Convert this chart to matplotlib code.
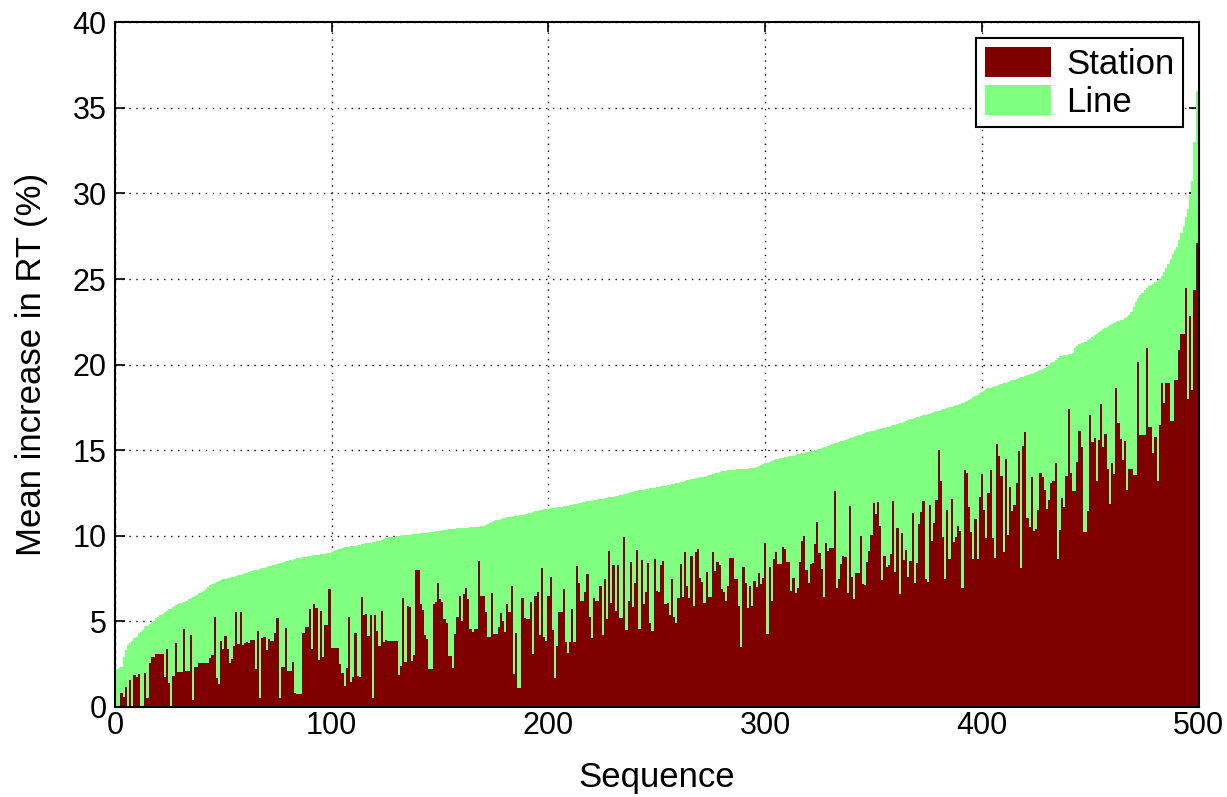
import numpy as np
import matplotlib
matplotlib.use("Agg")
import matplotlib.pyplot as plt

# mean increase in RT (%) for each sequence, sorted by the "Line" value
line_vals = [
    0.4, 2.2, 2.25, 2.35, 2.9, 3.3, 3.6, 3.75, 3.85, 4.0,
    4.1, 4.3, 4.4, 4.5, 4.7, 4.75, 4.85, 4.95, 5.05, 5.2,
    5.25, 5.35, 5.45, 5.55, 5.6, 5.7, 5.75, 5.85, 5.95, 6.0,
    6.05, 6.1, 6.15, 6.2, 6.3, 6.35, 6.4, 6.5, 6.55, 6.65,
    6.7, 6.8, 6.9, 7.0, 7.15, 7.2, 7.25, 7.3, 7.35, 7.4,
    7.45, 7.5, 7.52, 7.55, 7.6, 7.62, 7.65, 7.7, 7.72, 7.75,
    7.8, 7.85, 7.9, 7.95, 7.98, 8.0, 8.03, 8.06, 8.1, 8.14,
    8.18, 8.22, 8.25, 8.28, 8.32, 8.36, 8.4, 8.43, 8.46, 8.5,
    8.53, 8.56, 8.6, 8.64, 8.68, 8.7, 8.72, 8.74, 8.77, 8.8,
    8.82, 8.84, 8.86, 8.88, 8.9, 8.92, 8.94, 8.96, 8.98, 9.0,
    9.05, 9.1, 9.15, 9.2, 9.25, 9.3, 9.32, 9.34, 9.36, 9.38,
    9.4, 9.42, 9.45, 9.47, 9.5, 9.52, 9.55, 9.58, 9.6, 9.62,
    9.65, 9.68, 9.7, 9.75, 9.8, 9.85, 9.9, 9.92, 9.93, 9.95,
    9.97, 9.98, 10.0, 10.02, 10.03, 10.05, 10.07, 10.08, 10.1, 10.11,
    10.13, 10.14, 10.16, 10.17, 10.19, 10.2, 10.22, 10.24, 10.26, 10.28,
    10.3, 10.32, 10.34, 10.36, 10.38, 10.39, 10.4, 10.41, 10.43, 10.44,
    10.45, 10.46, 10.47, 10.48, 10.49, 10.5, 10.51, 10.52, 10.53, 10.55,
    10.6, 10.65, 10.7, 10.75, 10.8, 10.85, 10.9, 10.95, 11.0, 11.02,
    11.04, 11.07, 11.09, 11.11, 11.13, 11.15, 11.18, 11.2, 11.23, 11.26,
    11.3, 11.33, 11.36, 11.4, 11.43, 11.46, 11.5, 11.52, 11.54, 11.56,
    11.58, 11.6, 11.62, 11.64, 11.66, 11.68, 11.7, 11.72, 11.74, 11.76,
    11.78, 11.8, 11.83, 11.86, 11.9, 11.93, 11.96, 12.0, 12.02, 12.04,
    12.05, 12.07, 12.1, 12.12, 12.14, 12.17, 12.2, 12.22, 12.24, 12.26,
    12.28, 12.31, 12.34, 12.37, 12.4, 12.43, 12.46, 12.5, 12.53, 12.58,
    12.6, 12.63, 12.65, 12.68, 12.7, 12.73, 12.76, 12.78, 12.8, 12.82,
    12.84, 12.86, 12.88, 12.9, 12.92, 12.95, 12.98, 13.01, 13.04, 13.07,
    13.1, 13.13, 13.16, 13.2, 13.23, 13.26, 13.29, 13.32, 13.35, 13.38,
    13.41, 13.43, 13.45, 13.49, 13.53, 13.57, 13.61, 13.65, 13.69, 13.73,
    13.76, 13.79, 13.8, 13.82, 13.83, 13.85, 13.86, 13.88, 13.89, 13.9,
    13.91, 13.92, 13.93, 13.94, 13.96, 13.98, 14.04, 14.08, 14.13, 14.18,
    14.23, 14.27, 14.32, 14.37, 14.42, 14.47, 14.5, 14.53, 14.55, 14.58,
    14.61, 14.64, 14.66, 14.69, 14.72, 14.75, 14.78, 14.81, 14.84, 14.87,
    14.9, 14.93, 14.96, 14.99, 15.01, 15.06, 15.11, 15.16, 15.21, 15.26,
    15.31, 15.36, 15.4, 15.44, 15.48, 15.51, 15.55, 15.59, 15.63, 15.69,
    15.73, 15.78, 15.82, 15.86, 15.9, 15.95, 15.99, 16.04, 16.08, 16.11,
    16.14, 16.18, 16.21, 16.24, 16.27, 16.3, 16.34, 16.37, 16.41, 16.45,
    16.49, 16.53, 16.57, 16.61, 16.65, 16.69, 16.76, 16.8, 16.84, 16.88,
    16.92, 16.96, 17.0, 17.03, 17.06, 17.1, 17.14, 17.18, 17.22, 17.27,
    17.31, 17.35, 17.39, 17.43, 17.47, 17.51, 17.55, 17.59, 17.63, 17.67,
    17.72, 17.76, 17.82, 17.89, 17.95, 18.02, 18.1, 18.17, 18.25, 18.33,
    18.4, 18.48, 18.56, 18.62, 18.66, 18.7, 18.74, 18.78, 18.82, 18.86,
    18.9, 18.95, 18.99, 19.04, 19.08, 19.13, 19.18, 19.22, 19.26, 19.3,
    19.35, 19.39, 19.43, 19.48, 19.53, 19.58, 19.64, 19.7, 19.76, 19.82,
    19.88, 19.98, 20.08, 20.18, 20.28, 20.38, 20.5, 20.53, 20.56, 20.59,
    20.62, 20.65, 20.68, 21.0, 21.1, 21.18, 21.24, 21.3, 21.34, 21.43,
    21.52, 21.63, 21.72, 21.81, 21.9, 21.98, 22.06, 22.14, 22.22, 22.3,
    22.38, 22.43, 22.48, 22.53, 22.58, 22.62, 22.7, 22.8, 22.92, 23.08,
    23.35, 23.65, 23.9, 24.05, 24.2, 24.35, 24.5, 24.58, 24.65, 24.72,
    24.82, 24.92, 25.02, 25.15, 25.4, 25.65, 25.9, 26.2, 26.45, 26.7,
    26.9, 27.3, 27.7, 28.1, 28.6, 29.1, 29.9, 30.7, 33.0, 36.0,
]

station_vals = [
    0, 0, 0, 0.8, 0.6, 1.15, 0, 1.6, 0, 1.87,
    1.77, 1.93, 0, 0, 1.97, 0.55, 2.55, 2.94, 2.94, 3.08,
    3.08, 3.08, 3.08, 1.77, 3.39, 1.38, 0, 1.81, 3.72, 2.03,
    2.06, 2.06, 4.56, 2.1, 2.1, 4.2, 0.4, 2.36, 2.36, 2.55,
    2.55, 2.55, 2.55, 2.55, 2.84, 3.04, 5.24, 1.71, 1.34, 3.86,
    3.39, 4.17, 3.39, 2.55, 2.78, 3.56, 5.55, 3.68, 5.55, 3.62,
    3.72, 3.82, 3.72, 3.91, 3.91, 2.22, 4.44, 0.5, 4.0, 4.07,
    3.33, 3.99, 3.87, 3.87, 4.3, 5.22, 0.5, 2.36, 2.36, 4.6,
    2.12, 2.12, 2.6, 0.8, 0.76, 0.76, 0.76, 4.34, 4.69, 4.69,
    5.7, 3.39, 6.0, 5.8, 2.75, 5.63, 2.94, 4.79, 4.79, 6.87,
    3.47, 3.47, 3.47, 3.47, 2.51, 1.97, 1.25, 2.26, 5.28, 1.44,
    1.73, 4.3, 1.83, 1.77, 6.44, 5.35, 5.41, 4.17, 5.39, 0.55,
    5.35, 4.46, 3.56, 5.59, 3.82, 3.91, 3.86, 3.86, 3.86, 3.86,
    3.86, 1.85, 2.39, 6.39, 2.63, 5.9, 5.85, 2.69, 3.02, 8.0,
    8.0, 6.02, 5.67, 4.19, 3.95, 2.2, 2.2, 6.0, 6.15, 7.22,
    6.33, 6.11, 5.12, 4.93, 2.98, 2.98, 2.3, 4.24, 5.24, 6.48,
    5.02, 6.58, 6.97, 6.31, 4.54, 4.4, 4.54, 4.54, 8.5, 6.5,
    6.5, 5.57, 4.11, 4.11, 6.64, 4.26, 4.26, 4.65, 5.47, 5.04,
    4.4, 6.02, 5.53, 7.07, 1.93, 4.3, 1.13, 1.13, 6.39, 5.18,
    5.14, 5.14, 6.15, 3.08, 6.5, 6.7, 4.21, 8.14, 4.11, 3.84,
    6.48, 7.61, 4.5, 1.67, 3.56, 5.53, 5.53, 6.89, 3.78, 3.13,
    3.78, 5.7, 3.78, 8.24, 7.26, 6.19, 6.19, 6.7, 7.77, 5.28,
    4.05, 6.35, 6.21, 6.19, 7.07, 4.2, 7.48, 5.14, 9.11, 6.09,
    8.29, 5.61, 8.29, 5.18, 5.18, 9.91, 4.5, 6.19, 8.45, 5.86,
    7.26, 9.17, 4.56, 8.59, 6.02, 6.7, 8.39, 4.89, 4.44, 8.64,
    6.78, 6.7, 8.29, 8.53, 6.02, 6.06, 5.37, 7.48, 5.24, 4.93,
    6.35, 8.35, 6.41, 9.03, 7.09, 6.35, 8.82, 5.92, 9.07, 9.23,
    7.52, 7.28, 6.09, 7.87, 6.44, 6.44, 9.07, 7.94, 8.45, 8.29,
    6.89, 6.7, 6.19, 7.09, 8.68, 8.68, 7.46, 7.46, 5.92, 3.52,
    8.2, 7.22, 5.8, 7.07, 5.9, 7.36, 7.03, 7.85, 7.18, 7.55,
    9.6, 4.26, 8.16, 6.21, 8.63, 9.07, 8.35, 8.33, 9.37, 9.21,
    8.49, 8.49, 6.78, 7.55, 6.68, 6.93, 8.49, 9.7, 9.99, 8.0,
    7.26, 8.35, 8.39, 9.52, 10.83, 8.98, 8.06, 6.44, 9.56, 9.11,
    9.27, 9.27, 12.6, 6.93, 7.48, 8.33, 8.82, 8.78, 6.68, 11.76,
    7.61, 6.31, 7.81, 7.81, 10.0, 7.18, 7.13, 8.45, 9.11, 10.05,
    11.9, 11.27, 11.95, 10.57, 7.42, 8.84, 8.2, 8.29, 8.92, 12.03,
    7.9, 10.44, 6.6, 10.18, 8.59, 9.17, 7.57, 8.53, 11.31, 7.22,
    8.39, 10.69, 11.37, 12.03, 7.48, 7.28, 11.8, 9.72, 10.73, 12.09,
    15.01, 13.2, 9.95, 7.46, 11.5, 8.63, 12.13, 9.66, 9.95, 10.57,
    10.3, 6.93, 13.84, 13.69, 11.66, 10.24, 8.64, 10.96, 8.63, 12.29,
    13.59, 11.5, 9.85, 12.52, 13.84, 9.85, 8.68, 15.36, 14.68, 13.49,
    9.03, 14.47, 10.05, 12.83, 11.47, 11.8, 13.06, 14.95, 8.1, 15.25,
    16.04, 11.06, 10.53, 13.45, 10.28, 10.38, 11.51, 13.65, 13.42, 12.68,
    11.57, 12.09, 13.06, 13.22, 14.23, 8.63, 10.34, 12.23, 11.7, 13.51,
    17.39, 13.65, 12.64, 12.64, 14.33, 16.14, 15.17, 10.24, 10.24, 11.47,
    17.06, 15.46, 15.69, 13.22, 15.6, 17.7, 15.17, 15.95, 13.88, 11.84,
    14.27, 13.59, 18.65, 16.57, 15.65, 14.43, 15.54, 12.65, 13.9, 13.9,
    13.54, 13.54, 20.14, 15.9, 15.9, 15.9, 20.96, 16.37, 16.37, 14.84,
    15.78, 13.19, 16.49, 18.91, 17.78, 18.91, 18.91, 16.72, 16.72, 19.08,
    19.08, 20.84, 21.78, 21.78, 24.49, 18.02, 22.84, 18.49, 24.38, 27.08,
]

x_ticks = [0, 100, 200, 300, 400, 500]
y_ticks = [0, 5, 10, 15, 20, 25, 30, 35, 40]

plt.rcParams['font.family'] = ['Liberation Sans', 'DejaVu Sans']

fig = plt.figure(figsize=(12.27, 7.97), dpi=100)
ax = fig.add_axes([0.0937, 0.113, 0.8833, 0.859])

# bars are centred on the sequence index, so the first one sits half outside
pos = np.arange(len(line_vals))
h_line = ax.bar(pos, line_vals, width=1.0, color='#80ff80', linewidth=0, label='Line', zorder=2)
h_station = ax.bar(pos, station_vals, width=1.0, color='#800000', linewidth=0, label='Station', zorder=3)

ax.set_xlim(0, 500)
ax.set_ylim(0, 40)
ax.set_xticks(x_ticks)
ax.set_yticks(y_ticks)
ax.grid(True, color='black', linestyle=(0, (1, 4)), linewidth=1.0, zorder=1)
ax.set_axisbelow(True)

ax.tick_params(direction='in', top=True, right=True, length=7, width=1.2,
               labelsize=22, pad=3)
ax.tick_params(axis='y', pad=6)
for s in ax.spines.values():
    s.set_linewidth(1.5)
    s.set_zorder(5)

ax.set_xlabel('Sequence', fontsize=25, labelpad=14)
ax.set_ylabel('Mean increase in RT (%)', fontsize=25, labelpad=18)

leg = ax.legend([h_station, h_line], ['Station', 'Line'], loc='upper right',
                fontsize=25, fancybox=False, edgecolor='black', framealpha=1,
                borderaxespad=0.45, handlelength=1.9, handleheight=0.95,
                borderpad=0.25, labelspacing=0.12, handletextpad=0.45)
leg.get_frame().set_linewidth(1.5)

fig.savefig('out.png', dpi=100)
